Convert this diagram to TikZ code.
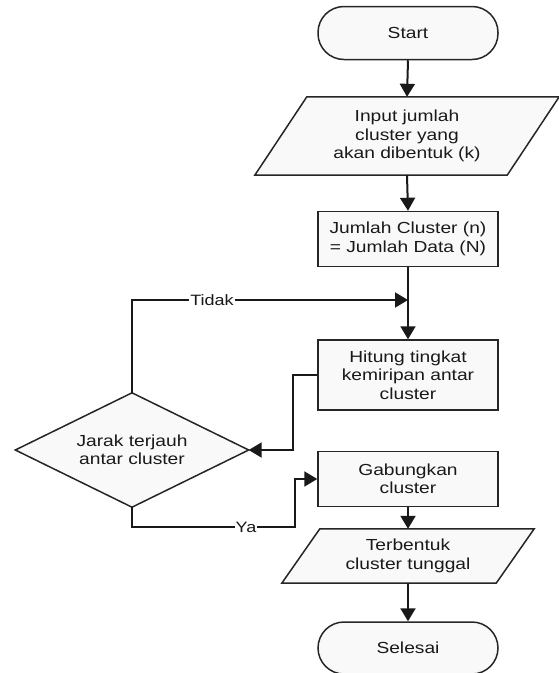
\documentclass[tikz,border=0pt]{standalone}
\usepackage{fontspec}
\setmainfont{Liberation Sans}[FakeStretch=1.2]
\usetikzlibrary{arrows.meta,calc}
\begin{document}
\begin{tikzpicture}[x=1pt,y=-1pt,
  txt/.style={font=\fontsize{16}{18.5}\selectfont, align=center, text=black!90},
  shapeline/.style={draw=black!85, line width=1.5pt, fill=gray!5},
  term/.style={txt, shapeline, rounded corners=26pt, minimum width=180pt, minimum height=53pt},
  procbox/.style={txt, shapeline, minimum width=180pt},
  ghost/.style={txt, minimum width=#1, inner sep=0pt},
  arr/.style={line width=2pt, draw=black!90, -{Triangle[width=15pt,length=13pt]}},
  lbl/.style={font=\fontsize{15}{17}\selectfont, fill=white, inner sep=1pt, text=black!90}
]
\useasboundingbox (0,0) rectangle (559,673);

% Start
\node[term] (start) at (408,33) {Start};

% Input parallelogram
\node[ghost=252pt, minimum height=78pt] (inp) at (407,136) {};
\draw[shapeline] ($(inp.north west)+(26,0)$) -- ($(inp.north east)+(26,0)$)
  -- ($(inp.south east)+(-26,0)$) -- ($(inp.south west)+(-26,0)$) -- cycle;
\node[txt] (inptxt) at (inp.center) {Input jumlah\\cluster yang\\akan dibentuk (k)};

% Jumlah cluster
\node[procbox, minimum height=55pt] (jml) at (408,239) {Jumlah Cluster (n)\\= Jumlah Data (N)};

% Hitung
\node[procbox, minimum height=70pt] (hit) at (408,375) {Hitung tingkat\\kemiripan antar\\cluster};

% Diamond
\node[ghost=233pt, minimum height=114pt] (dia) at (132,450) {};
\draw[shapeline] (dia.north) -- (dia.east) -- (dia.south) -- (dia.west) -- cycle;
\node[txt] (diatxt) at (dia.center) {Jarak terjauh\\antar cluster};

% Gabungkan
\node[procbox, minimum height=55pt] (gab) at (408,479) {Gabungkan\\cluster};

% Terbentuk parallelogram
\node[ghost=214pt, minimum height=54pt] (ter) at (408,556) {};
\draw[shapeline] ($(ter.north west)+(19,0)$) -- ($(ter.north east)+(19,0)$)
  -- ($(ter.south east)+(-19,0)$) -- ($(ter.south west)+(-19,0)$) -- cycle;
\node[txt] (tertxt) at (ter.center) {Terbentuk\\cluster tunggal};

% Selesai
\node[term, minimum height=52pt] (sel) at (408,648) {Selesai};

% connectors
\coordinate (jn) at (408,300);
\coordinate (ya1) at (295,527);

\draw[arr] (start.south) -- (inp.north);
\draw[arr] (inp.south) -- (jml.north);
\draw[arr] (jml.south) -- (hit.north);
\draw[arr] (hit.west) -- ++(-24,0) |- (dia.east);
\draw[arr] (dia.north) |- (jn);
\draw[arr] (dia.south) |- (ya1) |- (gab.west);
\draw[arr] (gab.south) -- (ter.north);
\draw[arr] (ter.south) -- (sel.north);

\node[lbl] (ltidak) at (212,300) {Tidak};
\node[lbl] (lya) at (246,527) {Ya};
\end{tikzpicture}
\end{document}
